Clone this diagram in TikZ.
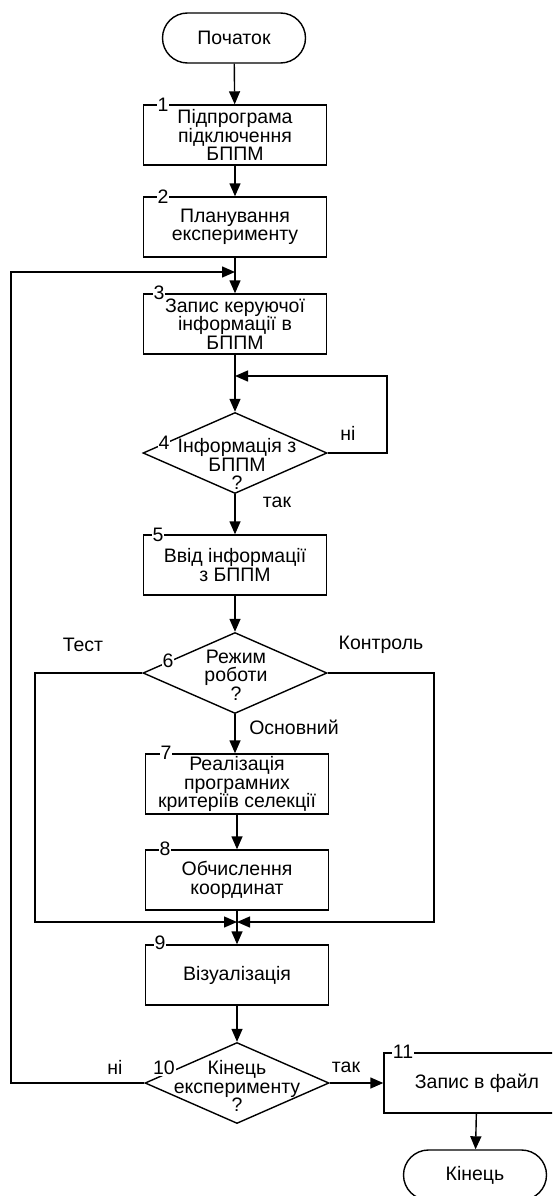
\documentclass[tikz,border=0pt]{standalone}
\usepackage{fontspec}
\setmainfont{Liberation Sans}
\usetikzlibrary{shapes.geometric, arrows.meta}

\begin{document}
\begin{tikzpicture}[
    x=1pt, y=-1pt,
    font=\fontsize{19.5}{18.5}\selectfont,
    line width=1.4pt,
    >={Triangle[length=13pt, width=11pt]},
    block/.style={draw, minimum width=183pt, minimum height=60pt, inner sep=0pt, align=center},
    term/.style={draw, rounded corners=25pt, minimum width=143pt, minimum height=50pt, inner sep=0pt},
    decision/.style={draw, diamond, minimum width=184pt, minimum height=81pt, inner sep=0pt},
    dtext/.style={align=center, inner sep=0pt},
    num/.style={fill=white, inner sep=1pt}
]
\useasboundingbox (0,0) rectangle (552,1196);
\clip (0,0) rectangle (552,1196);

% --- Main column ---
\node[term] (start) at (234,38) {Початок};
\node[block] (b1) at (235,135) {Підпрограма\\підключення\\БППМ};
\node[block] (b2) at (235,227) {Планування\\експерименту};
\node[block] (b3) at (235,324) {Запис керуючої\\інформації в\\БППМ};
\node[decision] (d4) at (235,453) {};
\node[dtext] (t4) at (237,464) {Інформація з\\БППМ\\?};
\node[block] (b5) at (235,565) {Ввід інформації\\з БППМ};
\node[decision] (d6) at (235,673) {};
\node[dtext] (t6) at (236,675) {Режим\\роботи\\?};

% --- Branch "Основний" ---
\node[block] (b7) at (237,784) {Реалізація\\програмних\\критеріїв селекції};
\node[block] (b8) at (237,880) {Обчислення\\координат};
\node[block] (b9) at (237,975) {Візуалізація};
\node[decision] (d10) at (237,1083) {};
\node[dtext] (t10) at (237,1086) {Кінець\\експерименту\\?};

% --- End ---
\node[block, minimum width=186pt] (b11) at (477,1083) {Запис в файл};
\node[term] (stop) at (475,1175) {Кінець};

% Block numbers
\node[num] (n1) at (163,105) {1};
\node[num] (n2) at (163,197) {2};
\node[num] (n3) at (159,293) {3};
\node[num] (n4) at (164,443) {4};
\node[num] (n5) at (158,535) {5};
\node[num] (n6) at (168,661) {6};
\node[num] (n7) at (166,753) {7};
\node[num] (n8) at (165,849) {8};
\node[num] (n9) at (160,943) {9};
\node[num] (n10) at (164,1068) {10};
\node[num] (n11) at (403,1052) {11};

% Branch labels
\node (no4) at (348,433) {ні};
\node (yes4) at (277,502) {так};
\node (test) at (83,645) {Тест};
\node (ctrl) at (381,645) {Контроль};
\node (basic) at (294,727) {Основний};
\node (no10) at (115,1067) {ні};
\node (yes10) at (346,1067) {так};

% Turning points
\coordinate (loop) at (11,272);
\coordinate (back) at (387,376);
\coordinate (tl) at (35,922);
\coordinate (tr) at (434,922);
\coordinate (merge) at (237,922);

% Edges
\draw[->] (start) -- (b1);
\draw[->] (b1) -- (b2);
\draw[->] (b2) -- (b3);
\draw[->] (d10.west) -| (loop) -- (loop -| b2.south);
\draw[->] (b3) -- (d4);
\draw[->] (d4.east) -| (back) -- (back -| b3.south);
\draw[->] (d4) -- (b5);
\draw[->] (b5) -- (d6);
\draw[->] (d6.south) -- (d6.south |- b7.north);
\draw[->] (b7) -- (b8);
\draw[->] (d6.west) -| (tl) -- (merge);
\draw[->] (d6.east) -| (tr) -- (merge);
\draw (b8) -- (merge);
\draw[->] (merge) -- (b9);
\draw[->] (b9) -- (d10);
\draw[->] (d10) -- (b11);
\draw[->] (b11) -- (stop);

\end{tikzpicture}
\end{document}
